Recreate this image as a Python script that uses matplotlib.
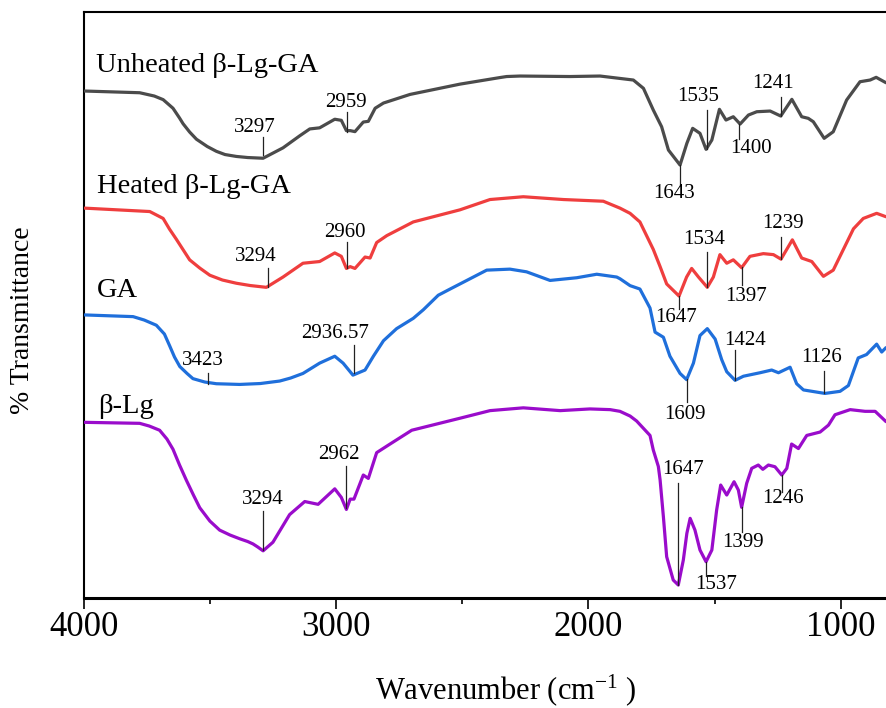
import matplotlib
matplotlib.use("Agg")
import matplotlib.pyplot as plt

plt.rcParams['font.family'] = ['Liberation Serif', 'DejaVu Serif']
plt.rcParams['mathtext.fontset'] = 'custom'
plt.rcParams['mathtext.rm'] = 'Liberation Serif'
plt.rcParams['mathtext.default'] = 'regular'

# ---------------- data (wavenumber, relative transmittance) ----------------
unheated_wn = [3996, 3778, 3720, 3685, 3646, 3620, 3606, 3580, 3553, 3510, 3474, 3440, 3395, 3350,
               3289, 3210, 3144, 3104, 3065,
               3005, 2979, 2959, 2944, 2925, 2892, 2872, 2845, 2812, 2707, 2509, 2350, 2324,
               2271, 2073, 1954, 1822, 1782, 1743, 1710, 1683, 1637, 1610, 1587, 1558, 1534,
               1511, 1481, 1455, 1426, 1399, 1366, 1333, 1280, 1238, 1194, 1155, 1129, 1109,
               1066, 1030, 977, 924, 884, 860, 821]
unheated_t = [508.0, 506.3, 503.0, 499.4, 490.8, 481.0, 475.3, 467.0, 459.8, 452.5, 447.7, 444.5,
              442.6, 441.5, 440.8, 451.2, 463.2, 470.1,
              471.2, 479.8, 478.7, 468.4, 468.4, 467.4, 477.0, 477.7, 490.8, 496.0, 504.6, 514.9,
              521.5, 522.5, 523.0, 522.5, 523.0, 519.0, 510.7, 489.0, 472.3, 449.0, 434.0, 455.7,
              470.7, 465.7, 449.7, 459.0, 489.7, 479.0, 482.3, 475.0, 484.0, 487.3, 488.0, 483.0,
              499.7, 482.3, 480.7, 477.3, 460.7, 467.3, 499.0, 517.3, 519.0, 521.7, 516.3]

heated_wn = [3996, 3738, 3685, 3660, 3633, 3600, 3580, 3540, 3500, 3450, 3395, 3340, 3276, 3210,
             3131, 3065, 3005, 2979, 2959,
             2944, 2925, 2885, 2865, 2839, 2799, 2694, 2509, 2390, 2258, 2099, 1941, 1875, 1835,
             1796, 1743, 1716, 1690, 1641, 1611, 1591, 1564, 1529, 1505, 1479, 1452, 1426, 1393,
             1360, 1307, 1267, 1237, 1192, 1155, 1115, 1069, 1030, 950, 911, 858, 821]
heated_t = [390.9, 387.5, 380.6, 370.0, 359.9, 347.0, 339.2, 331.0, 323.8, 319.0, 315.8, 313.5,
            311.7, 322.0, 335.8, 337.5, 346.1,
            342.7, 330.6, 332.4, 330.6, 342.0, 341.0, 356.5, 363.4, 377.1, 389.2, 399.5, 402.3,
            399.5, 397.8, 390.9, 385.7, 377.1, 349.6, 332.4, 315.1, 303.0, 322.0, 330.6, 322.0,
            311.7, 322.0, 344.4, 335.8, 339.2, 331.3, 342.7, 345.4, 344.4, 339.9, 359.2, 341.0,
            337.5, 322.7, 328.9, 370.2, 380.6, 385.7, 382.3]

ga_wn = [3996, 3804, 3760, 3712, 3680, 3659, 3640, 3619, 3590, 3567, 3520, 3474, 3382, 3300,
         3223, 3180, 3131, 3065, 3005, 2972, 2933,
         2885, 2852, 2812, 2760, 2694, 2654, 2595, 2548, 2482, 2403, 2311, 2245, 2152, 2046,
         1967, 1888, 1875, 1835, 1796, 1756, 1736, 1703, 1677, 1637, 1611, 1584, 1558, 1529,
         1498, 1472, 1452, 1419, 1386, 1320, 1274, 1247, 1201, 1175, 1148, 1063, 1003, 970,
         931, 898, 858, 838, 821]
ga_t = [284.1, 282.4, 279.0, 273.8, 265.0, 253.1, 242.0, 232.5, 225.5, 220.4, 217.0, 215.3, 214.6,
        215.5, 218.0, 221.0, 225.6, 235.9, 242.8, 235.9,
        223.9, 229.0, 242.8, 258.3, 270.4, 280.7, 289.3, 303.8, 310.0, 318.6, 328.9, 329.9, 327.2,
        318.6, 321.3, 324.8, 322.0, 320.3, 313.4, 310.0, 291.0, 266.9, 261.8, 242.8, 225.6, 219.4,
        235.9, 263.5, 270.4, 260.0, 239.4, 227.3, 218.7, 222.8, 226.3, 229.0, 226.3, 231.8, 215.3,
        209.1, 205.6, 207.7, 213.5, 241.1, 244.5, 254.9, 247.0, 251.4]

blg_wn = [3996, 3778, 3740, 3699, 3670, 3646, 3620, 3593, 3565, 3540, 3500, 3461, 3420, 3382,
          3350, 3329, 3310, 3289, 3250, 3184, 3124, 3071,
          3005, 2979, 2959, 2944, 2929, 2892, 2872, 2839, 2786, 2700, 2509, 2390, 2258, 2112,
          1994, 1914, 1875, 1835, 1809, 1756, 1743, 1723, 1716, 1703, 1690, 1664, 1644, 1624,
          1610, 1597, 1578, 1558, 1534, 1511, 1492, 1476, 1452, 1423, 1406, 1393, 1373, 1353,
          1327, 1309, 1287, 1261, 1234, 1214, 1195, 1168, 1135, 1082, 1049, 1023, 963, 904,
          864, 821]
blg_t = [176.7, 175.7, 173.0, 168.8, 160.0, 149.8, 134.0, 118.8, 104.0, 91.3, 78.0, 68.9, 64.0,
         60.3, 57.5, 55.1, 52.0, 48.2, 56.8, 84.4, 97.5, 94.7,
         110.2, 101.6, 89.6, 99.9, 99.9, 124.0, 120.6, 146.4, 155.0, 168.8, 180.8, 188.4, 191.2,
         188.4, 190.1, 189.4, 187.7, 183.0, 178.0, 163.6, 149.0, 132.6, 119.0, 82.3, 42.3, 19.0,
         14.0, 39.0, 65.7, 80.7, 69.0, 49.0, 37.3, 49.0, 89.0, 114.0, 104.0, 117.3, 109.0, 91.7,
         115.7, 130.7, 134.0, 129.7, 134.0, 132.3, 124.0, 130.7, 155.0, 150.5, 163.6, 167.0,
         173.9, 184.3, 189.4, 187.7, 187.7, 177.4]

series_names = ['Unheated \u03b2-Lg-GA', 'Heated \u03b2-Lg-GA', 'GA', '\u03b2-Lg']
series_colors = ['#4b4b4b', '#ef3e3e', '#1f6fdb', '#9a0ccb']

# peak annotations: label text, leader line wavenumber, line top, line bottom, text position
peak_labels = ['3297', '2959', '1643', '1535', '1400', '1241',
               '3294', '2960', '1647', '1534', '1397', '1239',
               '3423', '2936.57', '1609', '1424', '1126',
               '3294', '2962', '1647', '1537', '1399', '1246']
line_wn = [3288, 2958, 1637, 1529, 1402, 1238,
           3271, 2955, 1641, 1529, 1393, 1237,
           3507, 2929, 1611, 1419, 1065,
           3289, 2962, 1644, 1534, 1393, 1234]
line_top = [462, 487, 434, 489, 475, 502,
            331, 357, 303, 347, 332, 362,
            226, 254, 220, 249, 228,
            88, 133, 116, 37, 92, 124]
line_bot = [444, 467, 414, 450, 460, 483,
            312, 331, 290, 312, 314, 340,
            215, 226, 197, 219, 206,
            49, 91, 14, 23, 67, 107]
text_wn = [3323, 2962, 1662, 1566, 1356, 1267,
           3316, 2964, 1652, 1543, 1374, 1231,
           3529, 3003, 1618, 1380, 1077,
           3292, 2989, 1626, 1495, 1388, 1231]
text_t = [472, 497, 406, 503, 451, 516,
          343, 367, 282, 360, 303, 376,
          239, 266, 185, 259, 242,
          100, 145, 130, 15, 57, 101]

name_wn = [3951, 3947, 3947, 3942]
name_t = [527, 405.7, 301.7, 185.7]

# ---------------- figure ----------------
fig = plt.figure(figsize=(8.86, 7.08), dpi=100)
ax = fig.add_axes([0.0944, 0.1549, 0.9056, 0.8281])

for wn, t, c in zip([unheated_wn, heated_wn, ga_wn, blg_wn],
                    [unheated_t, heated_t, ga_t, blg_t], series_colors):
    ax.plot(wn, t, color=c, lw=2.3, solid_joinstyle='round', solid_capstyle='round', zorder=3)

for name, x, y in zip(series_names, name_wn, name_t):
    ax.text(x, y, name, fontsize=20.5, ha='left', va='baseline', color='black')

for lab, lx, lt, lb, tx, ty in zip(peak_labels, line_wn, line_top, line_bot, text_wn, text_t):
    ax.plot([lx, lx], [lb, lt], color='#222222', lw=0.9, zorder=4)
    ax.text(tx, ty, lab, fontsize=15, ha='center', va='center', color='black', zorder=5)

ax.set_xlim(4000, 821)
ax.set_ylim(0.7, 587)
ax.set_xticks([4000, 3000, 2000, 1000])
ax.set_xticks([3500, 2500, 1500], minor=True)
ax.set_yticks([])
ax.tick_params(axis='x', which='major', direction='out', length=8, width=1.2,
               labelsize=25, pad=1)
ax.tick_params(axis='x', which='minor', direction='out', length=4.5, width=1.2)
ax.spines['right'].set_visible(False)
ax.spines['bottom'].set_linewidth(2.2)
ax.spines['left'].set_linewidth(1.5)
ax.spines['top'].set_linewidth(1.5)

fig.text(375 / 886, 1 - 699 / 708, 'Wavenumber (cm$^{-1}$ )', fontsize=22,
         ha='left', va='baseline')
fig.text(23 / 886, 1 - 320 / 708, '% Transmittance', fontsize=20, rotation=90,
         ha='center', va='center')

fig.savefig('out.png', dpi=100)
